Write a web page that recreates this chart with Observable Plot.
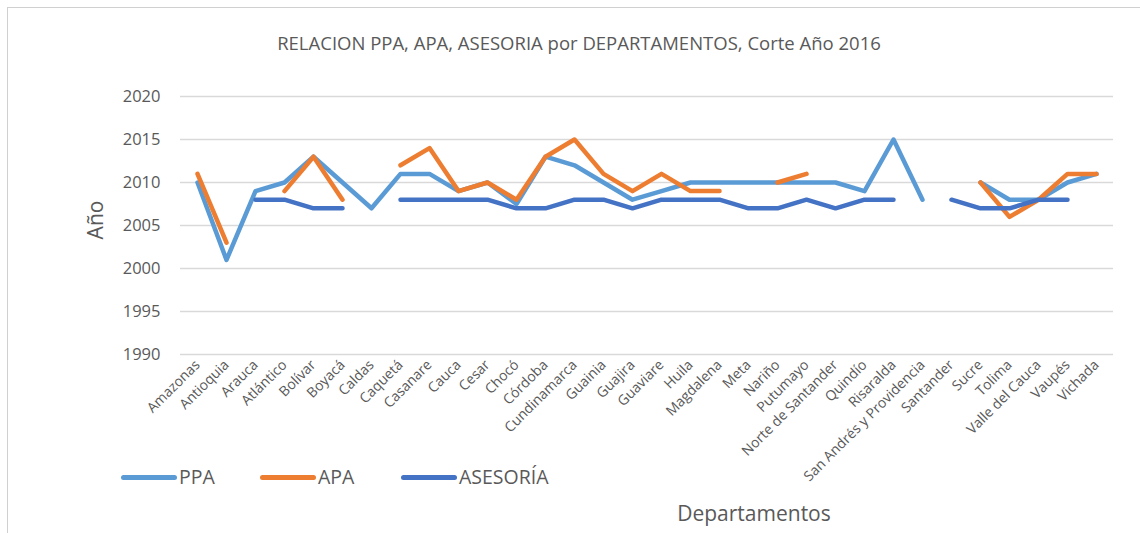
<!DOCTYPE html>
<html>
<head>
<meta charset="utf-8">
<script src="https://cdn.jsdelivr.net/npm/d3@7"></script>
<script src="https://cdn.jsdelivr.net/npm/@observablehq/plot@0.6"></script>
<style>
  html, body { margin: 0; padding: 0; background: #fff; overflow: hidden; }
  #wrap { position: relative; width: 1140px; height: 533px; font-family: "Open Sans", sans-serif; color: #595959; }
  #frame { position: absolute; left: 7px; top: 7px; width: 1200px; height: 600px; border: 1px solid #d0d0d0; box-sizing: border-box; }
  #chart { position: absolute; left: 0; top: 0; }
  .t { position: absolute; white-space: nowrap; }
  #title { left: 0; width: 1158px; top: 30px; text-align: center; font-size: 18.5px; }
  #ylab { left: 95px; top: 220px; font-size: 21px; transform: translate(-50%, -50%) rotate(-90deg); }
  #xlab { left: 754px; top: 499px; font-size: 21px; transform: translateX(-50%); }
  .sw { position: absolute; height: 5px; border-radius: 3px; width: 56px; }
  .lg { font-size: 19.5px; top: 463px; }
</style>
</head>
<body>
<div id="wrap">
  <div id="frame"></div>
  <div id="chart"></div>
  <div class="t" id="title">RELACION PPA, APA, ASESORIA por DEPARTAMENTOS, Corte Año 2016</div>
  <div class="t" id="ylab">Año</div>
  <div class="t" id="xlab">Departamentos</div>
  <div id="legend"></div>
</div>
<script>
const departamentos = ["Amazonas","Antioquia","Arauca","Atlántico","Bolívar","Boyacá","Caldas","Caquetá","Casanare","Cauca","Cesar","Chocó","Córdoba","Cundinamarca","Guainia","Guajira","Guaviare","Huila","Magdalena","Meta","Nariño","Putumayo","Norte de Santander","Quindío","Risaralda","San Andrés y Providencia","Santander","Sucre","Tolima","Valle del Cauca","Vaupés","Vichada"];
const ppa = [2010,2001,2009,2010,2013,2010,2007,2011,2011,2009,2010,2007.5,2013,2012,2010,2008,2009,2010,2010,2010,2010,2010,2010,2009,2015,2008,null,2010,2008,2008,2010,2011];
const apa = [2011,2003,null,2009,2013,2008,null,2012,2014,2009,2010,2008,2013,2015,2011,2009,2011,2009,2009,null,2010,2011,null,null,null,null,null,2010,2006,2008,2011,2011];
const asesoria = [null,null,2008,2008,2007,2007,null,2008,2008,2008,2008,2007,2007,2008,2008,2007,2008,2008,2008,2007,2007,2008,2007,2008,2008,null,2008,2007,2007,2008,2008,null];
const yTicks = [1990,1995,2000,2005,2010,2015,2020];
const seriesNames = ["PPA","APA","ASESORÍA"];
const seriesColors = ["#5B9BD5","#ED7D31","#4472C4"];
const seriesValues = [ppa, apa, asesoria];

const rows = [];
seriesNames.forEach((s, k) => {
  departamentos.forEach((d, i) => rows.push({serie: s, dep: d, year: seriesValues[k][i]}));
});

const plot = Plot.plot({
  width: 1140,
  height: 533,
  marginLeft: 180,
  marginRight: 27,
  marginTop: 96,
  marginBottom: 179,
  style: {fontFamily: "Open Sans, sans-serif", color: "#595959", background: "transparent"},
  x: {type: "point", domain: departamentos, padding: 0.5, label: null},
  y: {domain: [1990, 2020], label: null},
  color: {domain: seriesNames, range: seriesColors},
  marks: [
    Plot.ruleY(yTicks, {stroke: "#d9d9d9", strokeWidth: 1.3}),
    Plot.axisY({ticks: yTicks, tickSize: 0, tickPadding: 20, fontSize: 16.5, label: null, tickFormat: d => String(d), fill: "#595959"}),
    Plot.axisX({tickSize: 0, tickRotate: -45, tickPadding: 8, fontSize: 14, label: null, fill: "#595959"}),
    ...seriesNames.map((s, k) => Plot.line(rows.filter(r => r.serie === s), {
      x: "dep", y: "year", stroke: seriesColors[k], strokeWidth: 4.5,
      strokeLinecap: "round", strokeLinejoin: "round",
      defined: r => r.year != null
    }))
  ]
});
document.getElementById("chart").appendChild(plot);

const legend = document.getElementById("legend");
const legX = [121, 260, 401];
seriesNames.forEach((s, k) => {
  const sw = document.createElement("div");
  sw.className = "sw";
  sw.style.left = legX[k] + "px";
  sw.style.top = "475px";
  sw.style.background = seriesColors[k];
  legend.appendChild(sw);
  const t = document.createElement("div");
  t.className = "t lg";
  t.style.left = (legX[k] + 58) + "px";
  t.textContent = s;
  legend.appendChild(t);
});
</script>
</body>
</html>
